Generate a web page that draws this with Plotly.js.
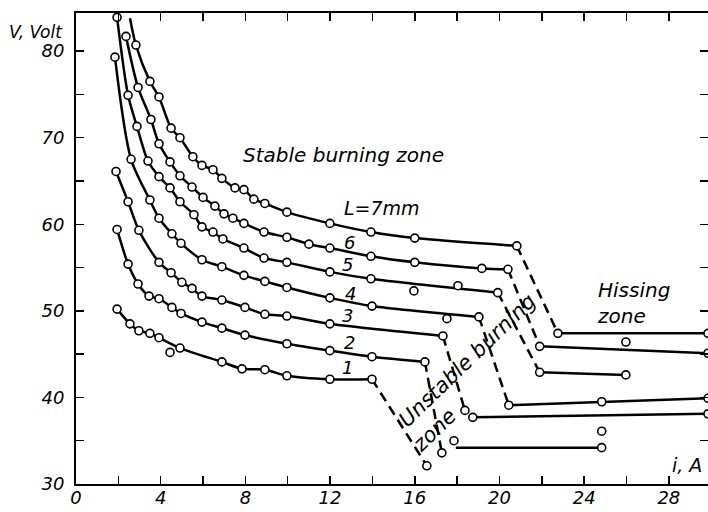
<!DOCTYPE html>
<html>
<head>
<meta charset="utf-8">
<script src="https://cdn.plot.ly/plotly-3.0.1.min.js"></script>
<style>html,body{margin:0;padding:0;background:#fff;}#chart{width:708px;height:512px;}</style>
</head>
<body>
<div id="chart"></div>
<script>
// ---- Data (current i in A, voltage V in Volt) ----
// Stable burning zone curves (markers + fitted line)
const c7_start_i = [2.55], c7_start_v = [83.8];
const c7_i = [2.83, 3.49, 3.92, 4.49, 4.91, 5.52, 5.95, 6.47, 6.89, 7.51, 7.93, 8.40, 8.92, 9.96, 11.99, 13.93, 16.0, 20.82];
const c7_v = [80.7, 76.5, 74.7, 71.1, 70.0, 67.8, 66.8, 66.3, 65.3, 64.2, 64.0, 62.9, 62.4, 61.4, 60.1, 59.1, 58.4, 57.5];
const c6_i = [2.36, 2.93, 3.54, 3.92, 4.44, 4.91, 5.48, 6.0, 6.56, 6.99, 7.41, 7.93, 8.88, 9.96, 11.0, 11.99, 13.93, 16.0, 19.17, 20.4];
const c6_v = [81.7, 75.8, 72.1, 69.3, 67.2, 65.6, 64.3, 63.1, 62.1, 61.2, 60.7, 60.1, 59.1, 58.5, 57.7, 57.25, 56.3, 55.6, 54.9, 54.8];
const c5_i = [1.94, 2.46, 2.88, 3.40, 3.92, 4.44, 4.91, 5.57, 5.95, 6.47, 6.94, 7.93, 8.88, 9.96, 11.99, 13.93, 19.92];
const c5_v = [83.9, 74.9, 71.3, 67.3, 65.5, 64.2, 62.6, 61.1, 59.7, 59.1, 58.3, 57.25, 56.1, 55.6, 54.5, 53.7, 52.1];
const c4_i = [1.84, 2.60, 3.49, 3.92, 4.53, 4.96, 5.95, 6.89, 7.93, 8.92, 9.96, 11.99, 13.98, 19.03];
const c4_v = [79.3, 67.5, 62.8, 60.7, 58.9, 57.8, 55.9, 55.1, 54.1, 53.4, 52.7, 51.5, 50.55, 49.3];
const c3_i = [1.89, 2.46, 2.97, 3.92, 4.49, 5.0, 5.48, 5.95, 6.89, 7.98, 8.92, 9.96, 11.99, 17.33];
const c3_v = [66.1, 62.6, 59.3, 55.6, 54.4, 53.3, 52.6, 51.7, 51.25, 50.4, 49.6, 49.4, 48.5, 47.1];
const c2_i = [1.94, 2.46, 2.93, 3.45, 3.92, 4.53, 4.96, 5.95, 6.89, 7.98, 9.96, 11.99, 13.98, 16.48];
const c2_v = [59.4, 55.4, 53.1, 51.7, 51.4, 50.4, 49.7, 48.7, 48.0, 47.2, 46.2, 45.4, 44.7, 44.1];
const c1_i = [1.94, 2.55, 2.97, 3.49, 3.92, 4.91, 6.89, 7.84, 8.92, 9.96, 11.99, 13.98];
const c1_v = [50.2, 48.5, 47.7, 47.4, 46.9, 45.7, 44.1, 43.3, 43.2, 42.5, 42.1, 42.1];
// Scattered points off the fitted lines
const off_i = [4.44, 15.96, 18.04, 17.52, 25.97, 17.85, 24.83];
const off_v = [45.2, 52.3, 52.9, 49.1, 46.4, 35.0, 36.1];
// Ends of the dashed (unstable) drops
const d7_i = [22.76], d7_v = [47.4];
const d6_i = [21.9],  d6_v = [45.9];
const d5_i = [21.9],  d5_v = [42.9];
const d4_i = [20.44], d4_v = [39.1];
const d3_i = [18.37], d3_v = [38.5];
const d2_i = [17.28], d2_v = [33.6];
const d1_i = [16.57], d1_v = [32.1];
// Hissing zone segments
const h7_i = [22.76, 29.85], h7_v = [47.4, 47.4];
const h6_i = [21.9, 29.85],  h6_v = [45.9, 45.1];
const h5_i = [21.9, 25.97],  h5_v = [42.9, 42.6];
const h4_i = [20.44, 24.83, 29.85], h4_v = [39.1, 39.5, 39.9];
const h3_i = [18.74, 29.85], h3_v = [37.7, 38.1];
const h2_i = [17.94, 24.83], h2_v = [34.2, 34.2];
const h2_mark_i = [24.83], h2_mark_v = [34.2];
// Axis ticks
const xTickVals = [0,2,4,6,8,10,12,14,16,18,20,22,24,26,28];
const xTickText = ['0','','4','','8','','12','','16','','20','','24','','28'];
const yTickVals = [30,35,40,45,50,55,60,65,70,75,80];
const yTickText = ['30','','40','','50','','60','','70','','80'];
// Curve labels
const lbl_text = ['1','2','3','4','5','6','L=7mm'];
const lbl_i = [12.84, 12.94, 12.84, 12.98, 12.84, 12.94, 14.45];
const lbl_v = [43.4, 46.4, 49.5, 52.05, 55.3, 57.9, 61.9];

// ---- Build traces ----
const BLACK = '#000';
const lineStyle = {color: BLACK, width: 2.5};
const markerStyle = {symbol: 'circle', size: 8, color: '#fff', line: {color: BLACK, width: 1.6}};
const traces = [];
const stable = [
  [c1_i, c1_v, d1_i, d1_v],
  [c2_i, c2_v, d2_i, d2_v],
  [c3_i, c3_v, d3_i, d3_v],
  [c4_i, c4_v, d4_i, d4_v],
  [c5_i, c5_v, d5_i, d5_v],
  [c6_i, c6_v, d6_i, d6_v],
  [c7_start_i.concat(c7_i), c7_start_v.concat(c7_v), d7_i, d7_v]
];
stable.forEach(([xi, vi, di, dv]) => {
  traces.push({x: xi, y: vi, mode: 'lines', line: Object.assign({shape: 'spline', smoothing: 0.8}, lineStyle), hoverinfo: 'skip'});
  traces.push({x: [xi[xi.length-1], di[0]], y: [vi[vi.length-1], dv[0]], mode: 'lines', line: {color: BLACK, width: 2.5, dash: '10px,6px'}, hoverinfo: 'skip'});
});
[[h2_i,h2_v],[h3_i,h3_v],[h4_i,h4_v],[h5_i,h5_v],[h6_i,h6_v],[h7_i,h7_v]].forEach(([xi, vi]) => {
  traces.push({x: xi, y: vi, mode: 'lines', line: lineStyle, hoverinfo: 'skip'});
});
// markers on top
[c1_i,c2_i,c3_i,c4_i,c5_i,c6_i,c7_i].forEach((xi, k) => {
  const vi = [c1_v,c2_v,c3_v,c4_v,c5_v,c6_v,c7_v][k];
  traces.push({x: xi, y: vi, mode: 'markers', marker: markerStyle, cliponaxis: false});
});
const dI = [d1_i,d2_i,d3_i].flat(), dV = [d1_v,d2_v,d3_v].flat();
traces.push({x: dI, y: dV, mode: 'markers', marker: markerStyle});
[[h3_i,h3_v],[h4_i,h4_v],[h5_i,h5_v],[h6_i,h6_v],[h7_i,h7_v],[h2_mark_i,h2_mark_v]].forEach(([xi, vi]) => {
  traces.push({x: xi, y: vi, mode: 'markers', marker: markerStyle, cliponaxis: false});
});
traces.push({x: off_i, y: off_v, mode: 'markers', marker: markerStyle});

const txtFont = {family: 'DejaVu Sans, sans-serif', size: 20, color: BLACK, style: 'italic'};
const annotations = lbl_text.map((t, k) => ({
  x: lbl_i[k], y: lbl_v[k], xref: 'x', yref: 'y', text: t, showarrow: false,
  font: Object.assign({}, txtFont, {size: t.length > 1 ? 19 : 18})
}));
annotations.push(
  {x: 12.65, y: 68.0, xref:'x', yref:'y', text: 'Stable burning zone', showarrow: false, font: txtFont},
  {x: 18.51, y: 44.3, xref:'x', yref:'y', text: 'Unstable burning', textangle: -44, showarrow: false, font: Object.assign({}, txtFont, {size: 21})},
  {x: 16.95, y: 36.2, xref:'x', yref:'y', text: 'zone', textangle: -44, showarrow: false, font: Object.assign({}, txtFont, {size: 21})},
  {x: 26.35, y: 52.4, xref:'x', yref:'y', text: 'Hissing', showarrow: false, font: txtFont},
  {x: 25.78, y: 49.4, xref:'x', yref:'y', text: 'zone', showarrow: false, font: txtFont},
  {x: 28.85, y: 32.2, xref:'x', yref:'y', text: 'i, A', showarrow: false, font: Object.assign({}, txtFont, {size: 19})},
  {x: -0.109, y: 0.985, xref:'paper', yref:'paper', xanchor: 'left', text: 'V, Volt', showarrow: false, font: Object.assign({}, txtFont, {size: 17})}
);

const tickFont = {family: 'DejaVu Sans, sans-serif', size: 18, color: BLACK, style: 'italic'};
const layout = {
  width: 708, height: 512,
  margin: {l: 76, r: 0, t: 13, b: 28, pad: 0},
  paper_bgcolor: '#fff', plot_bgcolor: '#fff',
  showlegend: false,
  xaxis: {range: [0, 29.85], tickvals: xTickVals, ticktext: xTickText, ticks: 'inside', ticklen: 8, tickwidth: 1.5, tickcolor: BLACK,
          showline: true, linewidth: 2, linecolor: BLACK, mirror: 'ticks', showgrid: false, zeroline: false, tickfont: tickFont, ticklabelstandoff: -4},
  yaxis: {range: [30, 84.4], tickvals: yTickVals, ticktext: yTickText, ticks: 'inside', ticklen: 8, tickwidth: 1.5, tickcolor: BLACK,
          showline: true, linewidth: 2, linecolor: BLACK, mirror: 'ticks', showgrid: false, zeroline: false, tickfont: tickFont, ticklabelstandoff: 6},
  annotations: annotations
};
Plotly.newPlot('chart', traces, layout, {displayModeBar: false, staticPlot: true});
</script>
</body>
</html>
